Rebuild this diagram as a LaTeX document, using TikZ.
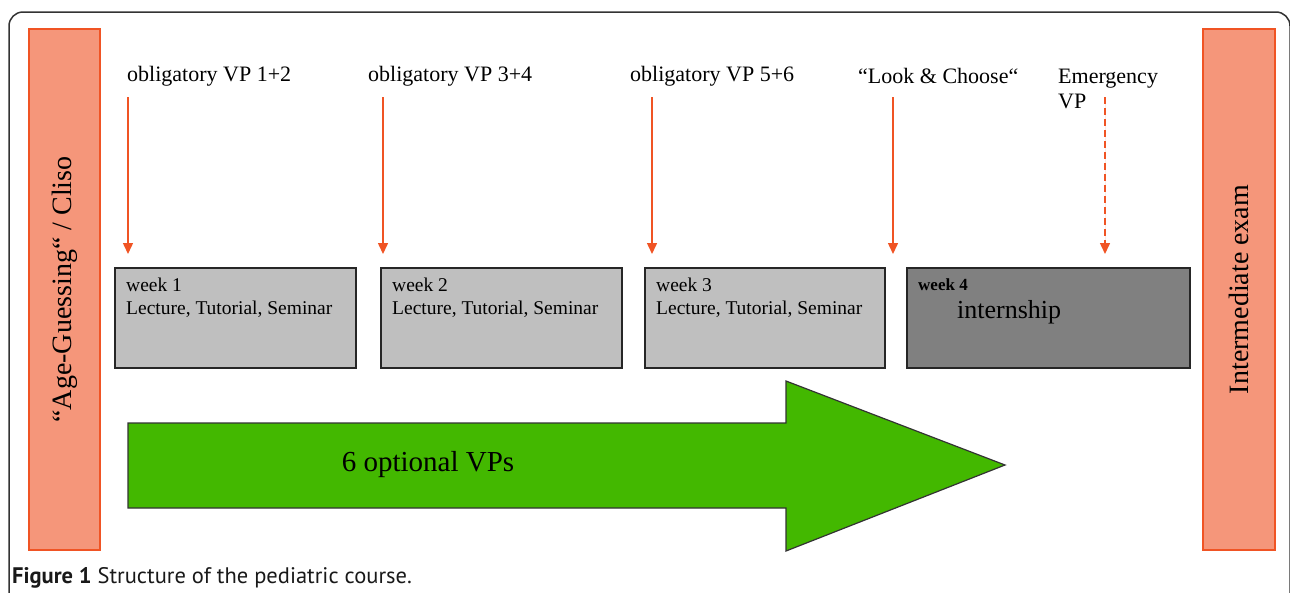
\documentclass[tikz,border=0pt]{standalone}
\usepackage{fontspec}
\setmainfont{Liberation Serif}
\newfontfamily\capfont{PT Sans}
\usetikzlibrary{positioning,arrows.meta,calc}
\definecolor{salmon}{RGB}{245,150,122}
\definecolor{rust}{RGB}{240,84,36}
\definecolor{leaf}{RGB}{67,184,0}
\tikzstyle{endbar}=[draw=rust,fill=salmon,line width=1.5pt,rotate=90,minimum width=521pt,inner sep=0pt,font=\fontsize{28}{32}\selectfont]
\tikzstyle{week}=[draw=black!85,line width=1.5pt,minimum height=100pt,anchor=north west,inner sep=0pt]
\tikzstyle{boxtext}=[align=left,inner sep=0pt,font=\fontsize{19.5}{22.5}\selectfont]

\begin{document}
\begin{tikzpicture}[x=1pt,y=-1pt,>={Triangle[width=10pt,length=11pt]},
    obl/.style={->,draw=rust,fill=rust,line width=1.5pt,shorten >=13pt},
    top/.style={anchor=west,inner sep=0pt,font=\fontsize{22}{25}\selectfont}]

    \useasboundingbox (0,0) rectangle (1290,592);
    \clip (0,0) rectangle (1290,592);
    \draw[line width=1.5pt,black!80,rounded corners=14pt] (9,12) rectangle (1290,650);

    % start and end of the course
    \node[endbar,minimum height=71pt] (age)  at (64.5,289.5) {“Age-Guessing“ / Cliso};
    \node[endbar,minimum height=72pt] (exam) at (1239,289.5) {Intermediate exam};

    % the four weeks
    \node[week,fill=black!25,minimum width=241pt] (w1) at (114,267) {};
    \node[week,fill=black!25,minimum width=241pt] (w2) at (380,267) {};
    \node[week,fill=black!25,minimum width=240pt] (w3) at (644,267) {};
    \node[week,fill=black!50,minimum width=283pt] (w4) at (906,267) {};

    \node[boxtext,below right=11pt and 12pt of w1.north west] (w1t) {week 1\\Lecture, Tutorial, Seminar};
    \node[boxtext,below right=11pt and 12pt of w2.north west] (w2t) {week 2\\Lecture, Tutorial, Seminar};
    \node[boxtext,below right=11pt and 12pt of w3.north west] (w3t) {week 3\\Lecture, Tutorial, Seminar};
    \node[boxtext,below right=11pt and 12pt of w4.north west,font=\bfseries\fontsize{17}{20}\selectfont] (w4t) {week 4};
    \node[anchor=west,inner sep=0pt,font=\fontsize{26}{30}\selectfont] (intern) at (957,312) {internship};

    % virtual patients
    \node[top] (vp1)  at (127,76) {obligatory VP 1+2};
    \node[top] (vp2)  at (368,76) {obligatory VP 3+4};
    \node[top] (vp3)  at (630,76) {obligatory VP 5+6};
    \node[top] (look) at (858,76) {“Look \& Choose“};
    \node[top,align=left,font=\fontsize{22}{25}\selectfont] (emer) at (1058,89) {Emergency\\VP};

    \coordinate (a1) at (128,97);
    \coordinate (a2) at (383,97);
    \coordinate (a3) at (652,97);
    \coordinate (a4) at (893,97);
    \coordinate (a5) at (1105,97);
    \draw[obl] (a1) -- (a1 |- w1.north);
    \draw[obl] (a2) -- (a2 |- w2.north);
    \draw[obl] (a3) -- (a3 |- w3.north);
    \draw[obl] (a4) -- (a4 |- w4.north);
    \draw[obl,dash pattern=on 7pt off 4pt] (a5) -- (a5 |- w4.north);

    % optional VPs
    \filldraw[fill=leaf,draw=black!80,line width=1.2pt] (128,423) -- (786,423) -- (786,381)
        -- (1005,465) -- (786,551) -- (786,508) -- (128,508) -- cycle;
    \node[font=\fontsize{29}{33}\selectfont] (opt) at (428,465) {6 optional VPs};

    \node[anchor=west,inner sep=0pt,font=\capfont\fontsize{22.5}{26}\selectfont,text=black!90] (cap) at (12,578)
        {\textbf{Figure 1} Structure of the pediatric course.};
\end{tikzpicture}
\end{document}
